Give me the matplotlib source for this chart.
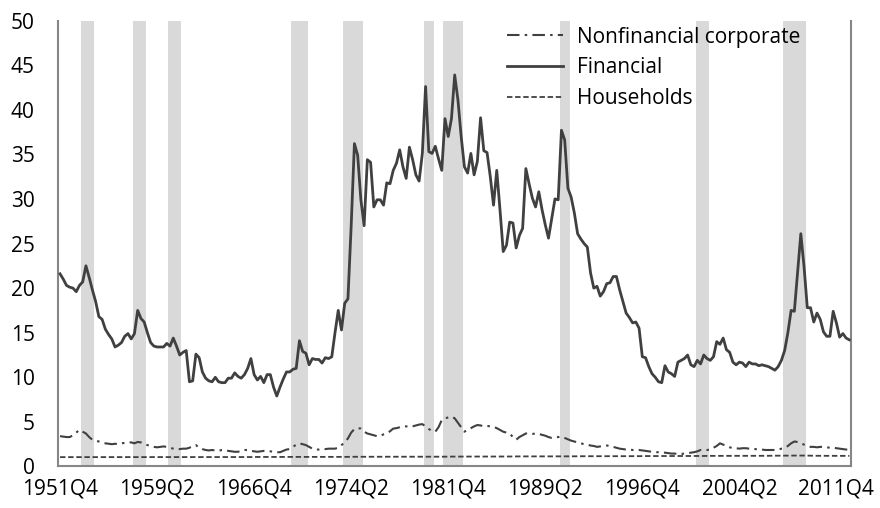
import matplotlib.pyplot as plt
import numpy as np

plt.rcParams['font.family'] = ['Open Sans', 'DejaVu Sans']

# quarterly data, 1951Q4 .. 2012Q4
first_year, first_q = 1951, 4

financial = [
    21.6, 21.0, 20.3, 20.1, 20.0, 19.6, 20.3, 20.7, 22.5, 21.2,
    19.8, 18.5, 16.8, 16.5, 15.4, 14.8, 14.3, 13.4, 13.6, 13.9,
    14.6, 14.9, 14.3, 14.9, 17.5, 16.6, 16.2, 15.0, 13.9, 13.5,
    13.4, 13.4, 13.4, 13.8, 13.5, 14.4, 13.5, 12.5, 12.8, 13.0,
    9.5, 9.6, 12.6, 12.2, 10.6, 9.9, 9.6, 9.5, 10.0, 9.5,
    9.4, 9.4, 9.9, 9.9, 10.5, 10.1, 9.9, 10.3, 11.0, 12.1,
    10.3, 9.7, 10.1, 9.4, 10.3, 10.3, 8.9, 7.9, 8.9, 9.8,
    10.6, 10.6, 10.9, 11.0, 14.1, 12.9, 12.7, 11.4, 12.1, 12.0,
    12.0, 11.6, 12.2, 12.1, 12.3, 15.0, 17.5, 15.3, 18.3, 18.8,
    27.0, 36.2, 34.9, 29.9, 27.0, 34.4, 34.1, 29.1, 29.9, 29.9,
    29.3, 31.8, 31.7, 33.2, 34.0, 35.5, 33.6, 32.3, 35.8, 34.4,
    32.7, 32.0, 35.1, 42.6, 35.3, 35.1, 35.9, 34.5, 33.2, 39.0,
    37.0, 39.0, 43.9, 41.1, 37.0, 33.6, 32.9, 35.1, 32.7, 34.2,
    39.1, 35.4, 35.2, 32.5, 29.3, 33.2, 28.8, 24.1, 24.8, 27.4,
    27.3, 24.5, 25.9, 26.7, 33.4, 31.7, 30.1, 29.1, 30.8, 28.8,
    27.1, 25.6, 27.8, 30.0, 29.9, 37.7, 36.6, 31.2, 30.2, 28.4,
    26.1, 25.5, 25.0, 24.6, 21.7, 20.0, 20.2, 19.1, 19.6, 20.5,
    20.6, 21.3, 21.3, 19.8, 18.5, 17.2, 16.7, 16.1, 16.2, 15.5,
    12.3, 12.2, 11.2, 10.4, 10.0, 9.5, 9.4, 11.3, 10.6, 10.4,
    10.1, 11.7, 11.9, 12.1, 12.5, 11.4, 11.2, 11.9, 11.5, 12.5,
    12.1, 11.9, 12.3, 14.0, 13.7, 14.4, 13.1, 12.8, 11.7, 11.4,
    11.7, 11.6, 11.2, 11.7, 11.5, 11.5, 11.3, 11.4, 11.3, 11.2,
    11.0, 10.8, 11.2, 11.9, 13.0, 15.0, 17.5, 17.4, 21.7, 26.1,
    22.4, 17.8, 17.8, 16.2, 17.2, 16.5, 15.1, 14.6, 14.6, 17.4,
    16.1, 14.5, 14.9, 14.4, 14.2,
]

nonfinancial = [
    3.4, 3.35, 3.3, 3.3, 3.5, 3.8, 4.1, 3.9, 3.7, 3.3,
    3.0, 2.9, 2.8, 2.7, 2.6, 2.55, 2.5, 2.55, 2.5, 2.6,
    2.65, 2.7, 2.7, 2.6, 2.75, 2.7, 2.5, 2.4, 2.3, 2.2,
    2.15, 2.2, 2.25, 2.2, 2.1, 2.0, 1.9, 1.95, 2.0, 2.0,
    2.1, 2.3, 2.4, 2.1, 1.95, 1.85, 1.8, 1.85, 1.8, 1.75,
    1.85, 1.85, 1.75, 1.7, 1.65, 1.65, 1.75, 1.85, 1.85, 1.75,
    1.7, 1.65, 1.7, 1.75, 1.75, 1.7, 1.65, 1.6, 1.6, 1.75,
    1.9, 1.95, 2.2, 2.45, 2.6, 2.5, 2.4, 2.2, 2.0, 1.9,
    1.9, 1.95, 1.95, 2.0, 2.0, 2.0, 2.1, 2.4, 2.7, 3.15,
    3.8, 4.2, 4.3, 4.25, 3.9, 3.7, 3.6, 3.5, 3.4, 3.45,
    3.6, 3.7, 3.95, 4.25, 4.3, 4.4, 4.5, 4.5, 4.45, 4.5,
    4.6, 4.7, 4.75, 4.5, 4.2, 4.0, 3.9, 4.4, 5.2, 5.4,
    5.5, 5.6, 5.4, 4.9, 4.4, 3.9, 4.1, 4.3, 4.5, 4.65,
    4.6, 4.5, 4.55, 4.5, 4.45, 4.3, 4.1, 3.9, 3.8, 3.7,
    3.3, 3.0, 3.3, 3.5, 3.7, 3.7, 3.65, 3.7, 3.65, 3.55,
    3.45, 3.3, 3.2, 3.25, 3.3, 3.35, 3.2, 3.05, 2.9, 2.8,
    2.7, 2.6, 2.5, 2.45, 2.35, 2.3, 2.2, 2.25, 2.3, 2.35,
    2.3, 2.2, 2.1, 2.0, 1.95, 1.9, 1.9, 1.85, 1.85, 1.85,
    1.8, 1.75, 1.7, 1.65, 1.6, 1.6, 1.55, 1.55, 1.5, 1.45,
    1.45, 1.4, 1.4, 1.45, 1.5, 1.55, 1.6, 1.7, 1.85, 1.85,
    1.85, 1.9, 2.1, 2.3, 2.6, 2.45, 2.3, 2.15, 2.05, 2.05,
    2.0, 2.05, 2.05, 2.0, 1.95, 1.95, 1.9, 1.9, 1.85, 1.85,
    1.85, 1.85, 1.9, 2.0, 2.05, 2.3, 2.6, 2.8, 2.75, 2.6,
    2.45, 2.3, 2.2, 2.2, 2.15, 2.2, 2.2, 2.15, 2.1, 2.1,
    2.05, 2.0, 1.95, 1.9, 1.9,
]

households = [
    1.05, 1.05, 1.05, 1.05, 1.05, 1.05, 1.05, 1.05, 1.05, 1.05,
    1.05, 1.05, 1.05, 1.05, 1.05, 1.05, 1.05, 1.05, 1.05, 1.05,
    1.05, 1.05, 1.05, 1.05, 1.05, 1.05, 1.05, 1.05, 1.05, 1.05,
    1.05, 1.05, 1.05, 1.05, 1.05, 1.05, 1.05, 1.05, 1.05, 1.05,
    1.06, 1.06, 1.06, 1.06, 1.06, 1.06, 1.06, 1.06, 1.06, 1.06,
    1.06, 1.06, 1.06, 1.06, 1.06, 1.06, 1.06, 1.06, 1.06, 1.06,
    1.07, 1.07, 1.07, 1.07, 1.07, 1.07, 1.07, 1.07, 1.07, 1.07,
    1.08, 1.08, 1.08, 1.08, 1.08, 1.08, 1.08, 1.08, 1.08, 1.08,
    1.08, 1.08, 1.08, 1.08, 1.08, 1.08, 1.08, 1.08, 1.08, 1.08,
    1.09, 1.09, 1.09, 1.09, 1.09, 1.09, 1.09, 1.09, 1.09, 1.09,
    1.10, 1.10, 1.10, 1.10, 1.10, 1.10, 1.10, 1.10, 1.10, 1.10,
    1.10, 1.10, 1.10, 1.10, 1.10, 1.10, 1.10, 1.10, 1.10, 1.10,
    1.11, 1.11, 1.11, 1.11, 1.11, 1.11, 1.11, 1.11, 1.11, 1.11,
    1.12, 1.12, 1.12, 1.12, 1.12, 1.12, 1.12, 1.12, 1.12, 1.12,
    1.13, 1.13, 1.13, 1.13, 1.13, 1.13, 1.13, 1.13, 1.13, 1.13,
    1.14, 1.14, 1.14, 1.14, 1.14, 1.14, 1.14, 1.14, 1.14, 1.14,
    1.15, 1.15, 1.15, 1.15, 1.15, 1.15, 1.15, 1.15, 1.15, 1.15,
    1.16, 1.16, 1.16, 1.16, 1.16, 1.16, 1.16, 1.16, 1.16, 1.16,
    1.17, 1.17, 1.17, 1.17, 1.17, 1.17, 1.17, 1.17, 1.17, 1.17,
    1.18, 1.18, 1.18, 1.18, 1.18, 1.18, 1.18, 1.18, 1.18, 1.18,
    1.19, 1.19, 1.19, 1.19, 1.19, 1.19, 1.19, 1.19, 1.19, 1.19,
    1.20, 1.20, 1.20, 1.20, 1.20, 1.20, 1.20, 1.20, 1.20, 1.20,
    1.21, 1.21, 1.21, 1.21, 1.21, 1.22, 1.22, 1.23, 1.23, 1.23,
    1.22, 1.22, 1.21, 1.21, 1.20, 1.20, 1.20, 1.20, 1.20, 1.20,
    1.20, 1.20, 1.19, 1.19, 1.19,
]

# NBER recessions (first and last quarter shaded)
recessions = [("1953Q3", "1954Q2"), ("1957Q3", "1958Q2"), ("1960Q2", "1961Q1"),
              ("1969Q4", "1970Q4"), ("1973Q4", "1975Q1"), ("1980Q1", "1980Q3"),
              ("1981Q3", "1982Q4"), ("1990Q3", "1991Q1"), ("2001Q1", "2001Q4"),
              ("2007Q4", "2009Q2")]

n = len(financial)
quarters = []
y, q = first_year, first_q
for _ in range(n):
    quarters.append(f"{y}Q{q}")
    q += 1
    if q > 4:
        q = 1
        y += 1
x = np.arange(n)

fig = plt.figure(figsize=(8.8, 5.08), dpi=100)
ax = fig.add_axes([0.0664, 0.0817, 0.9006, 0.8779])

# recession shading as full-height columns
for start, end in recessions:
    i0, i1 = quarters.index(start), quarters.index(end)
    ax.bar(x[i0:i1 + 1], 50, width=1.0, color='#d9d9d9', linewidth=0, zorder=1)

line_col = '#404040'
ax.plot(x, nonfinancial, color=line_col, lw=1.5, dashes=(6, 2.5, 1.2, 2.5),
        label='Nonfinancial corporate', zorder=3)
ax.plot(x, financial, color=line_col, lw=2.0, label='Financial', zorder=3)
ax.plot(x, households, color=line_col, lw=1.3, dashes=(3, 1.5),
        label='Households', zorder=3)

ax.set_xlim(-0.5, n - 0.5)
ax.set_ylim(0, 50)
ax.set_yticks(range(0, 51, 5))
ax.set_xticks(x[::30])
ax.set_xticklabels(quarters[::30])
ax.tick_params(length=0, labelsize=15, colors='black')
ax.tick_params(axis='x', pad=9)
ax.tick_params(axis='y', pad=17)

for side in ['left', 'bottom', 'right']:
    ax.spines[side].set_color('#868686')
    ax.spines[side].set_linewidth(1.5)
ax.spines['top'].set_visible(False)

ax.legend(loc='upper left', bbox_to_anchor=(0.555, 1.005), frameon=False,
          fontsize=15, handlelength=2.7, handletextpad=0.7, labelspacing=0.47,
          borderaxespad=0)

fig.savefig('out.png', dpi=100)
